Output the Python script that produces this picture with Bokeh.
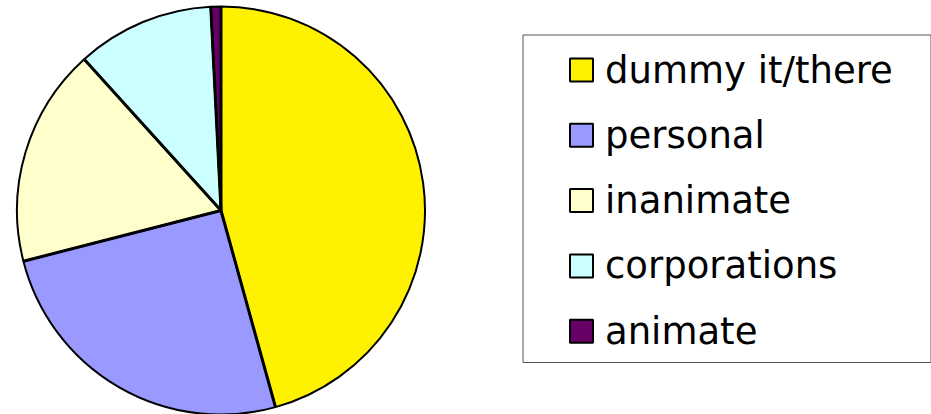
import numpy as np
from bokeh.plotting import figure
from bokeh.models import Range1d, ColumnDataSource
from bokeh.core.properties import value
from bokeh.embed import file_html
from bokeh.resources import INLINE

# ---- data ----
categories = ["dummy it/there", "personal", "inanimate", "corporations", "animate"]
shares = [45.7, 25.3, 17.3, 10.9, 0.8]
colors = ["#FFF200", "#9999FF", "#FFFFCC", "#CCFFFF", "#660066"]

# ---- layout (pixel frame: x right, y = 414 - screen y) ----
W, H = 931, 414
p = figure(width=W, height=H, output_backend="svg", toolbar_location=None,
           x_range=Range1d(0, W), y_range=Range1d(0, H),
           x_axis_type=None, y_axis_type=None, min_border=0)
p.outline_line_color = None
p.background_fill_color = "white"
p.border_fill_color = "white"

vals = np.array(shares, dtype=float)
frac = vals / vals.sum()
cum = np.concatenate([[0.0], np.cumsum(frac)])
start = np.pi / 2 - cum[:-1] * 2 * np.pi
end = np.pi / 2 - cum[1:] * 2 * np.pi

src = ColumnDataSource(dict(cat=categories, start=start, end=end, color=colors))
cx, cy, r = 220.5, H - 210, 204
p.wedge(x=cx, y=cy, radius=r, start_angle="start", end_angle="end",
        direction="clock", fill_color="color", line_color="black",
        line_width=2, source=src)
# slightly heavier radial separators, as in the original
p.ray(x=cx, y=cy, length=r, angle=start, line_color="black", line_width=3)

# ---- legend ----
p.quad(left=522.5, right=930.5, top=H - 34.5, bottom=H - 362, fill_color=None,
       line_color="#555555", line_width=1)

n = len(categories)
row_step = 65.3
sw_y = [H - (69.5 + i * row_step) for i in range(n)]
leg = ColumnDataSource(dict(cat=categories, color=colors, sy=sw_y))
p.rect(x=581, y="sy", width=23, height=23, fill_color="color", line_color="black",
       line_width=2, source=leg)
p.text(x=604.5, y="sy", text="cat", text_font=value("DejaVu Sans"),
       text_font_size="37px", text_baseline="middle", text_align="left",
       text_color="black", source=leg)

open("out.html", "w").write(file_html(p, INLINE))
